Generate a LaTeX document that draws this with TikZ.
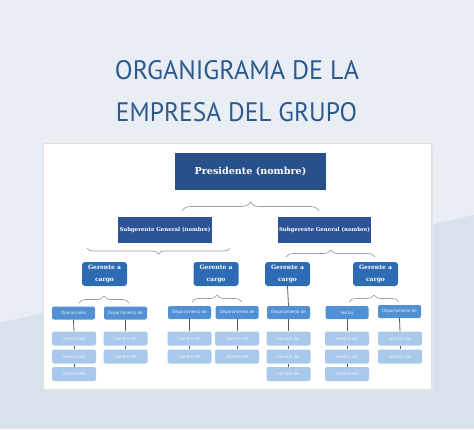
\documentclass[tikz,border=0pt]{standalone}
\usepackage{fontspec}
\setmainfont{PT Sans}
\newfontfamily\slab{DejaVu Serif}
\usetikzlibrary{decorations.pathreplacing,calc}
\definecolor{bgtop}{HTML}{E9EEF5}
\definecolor{bgbot}{HTML}{D8E1EC}
\definecolor{titleblue}{HTML}{2D5A8E}
\definecolor{presblue}{HTML}{28508A}
\definecolor{subblue}{HTML}{2C5397}
\definecolor{gerblue}{HTML}{2E6BB5}
\definecolor{depblue}{HTML}{5090D3}
\definecolor{nomblue}{HTML}{A8C8EC}
\definecolor{linegray}{HTML}{555B63}
\definecolor{bracegray}{HTML}{9AA0A8}
\tikzset{
  titletext/.style={inner sep=0pt, text=titleblue},
  presbox/.style={fill=presblue, minimum width=151pt, minimum height=37pt, inner sep=0pt,
    text=white, font=\slab\bfseries\fontsize{9.6}{11}\selectfont},
  subbox/.style={fill=subblue, minimum width=94pt, minimum height=26pt, inner sep=0pt,
    text=white, font=\slab\bfseries\fontsize{5.4}{6.5}\selectfont},
  gerbox/.style={fill=gerblue, rounded corners=3pt, minimum width=45pt, minimum height=24pt, inner sep=0pt,
    text=white, align=center, font=\slab\bfseries\fontsize{6}{12}\selectfont},
  depbox/.style={fill=depblue, rounded corners=2pt, minimum width=43pt, minimum height=13pt, inner sep=0pt,
    text=white!92!depblue, font=\fontsize{4.6}{5}\selectfont},
  nombox/.style={fill=nomblue, rounded corners=2pt, minimum width=44pt, minimum height=14pt, inner sep=0pt,
    text=white!85!nomblue, font=\fontsize{4.6}{5}\selectfont},
  conn/.style={draw=linegray, line width=0.8pt},
  bracestyle/.style={draw=bracegray, line width=0.7pt, decorate},
}
\begin{document}
\begin{tikzpicture}[x=1pt,y=-1pt]
\useasboundingbox (0,0) rectangle (474,429);
% background
\fill[bgtop] (0,0) rectangle (474,429);
\fill[bgbot] (0,323) -- (474,215) -- (474,429) -- (0,429) -- cycle;
% panel
\fill[black!10] (44.5,144.5) rectangle (432.5,390.5);
\fill[white] (43,143) rectangle (431,389);
\draw[black!12, line width=0.4pt] (43,143) rectangle (431,389);
% title
\node[titletext] (t1) at (237,70.5) {\resizebox{244pt}{19pt}{ORGANIGRAMA DE LA}};
\node[titletext] (t2) at (236.5,112.5) {\resizebox{241pt}{19pt}{EMPRESA DEL GRUPO}};
% top levels
\node[presbox] (pres) at (250.5,171.5) {Presidente (nombre)};
\node[subbox] (subl) at (165,230) {Subgerente General (nombre)};
\node[subbox, minimum width=93pt] (subr) at (324.5,230) {Subgerente General (nombre)};
\node[gerbox] (g1) at (104.5,274) {Gerente a\\cargo};
\node[gerbox] (g2) at (216,274) {Gerente a\\cargo};
\node[gerbox] (g3) at (287.5,274) {Gerente a\\cargo};
\node[gerbox] (g4) at (375.5,274) {Gerente a\\cargo};
% departments
\node[depbox] (d1) at (73.5,313) {Operaciones};
\node[depbox] (d2) at (125.5,313) {Departamento de};
\node[depbox] (d3) at (189.5,312.5) {Departamento de};
\node[depbox] (d4) at (237,312.5) {Departamento de};
\node[depbox] (d5) at (288.5,312.5) {Departamento de};
\node[depbox] (d6) at (347,312.5) {Ventas};
\node[depbox] (d7) at (399.5,311.5) {Departamento de};
% nombre boxes
\foreach \n/\x/\k in {1/74/3, 2/125.5/2, 3/189.5/2, 4/237/2, 5/288.5/3, 6/347/3, 7/400/2}{
  \foreach \r/\y in {1/338.5, 2/356.5, 3/374}{
    \ifnum\r>\k\relax\else
      \node[nombox] (n\n\r) at (\x,\y) {nombre del};
    \fi
  }
}
% connectors
\draw[conn] (g3.south) -- (d5.north);
\foreach \n/\k in {1/3, 2/2, 3/2, 4/2, 5/3, 6/3, 7/2}{
  \draw[conn] (d\n.south) -- (n\n1.north);
  \draw[conn] (n\n1.south) -- (n\n2.north);
  \ifnum\k=3\relax \draw[conn] (n\n2.south) -- (n\n3.north); \fi
}
% braces
\draw[bracestyle, decoration={brace, amplitude=9pt}] (182,211) -- (319,211);
\draw[bracestyle, decoration={brace, amplitude=6pt, mirror, aspect=0.5}] (87,248) -- (230,248);
\draw[bracestyle, decoration={brace, amplitude=7pt}] (286,257) -- (375,257);
\draw[bracestyle, decoration={brace, amplitude=7pt}] (79,303) -- (129,303);
\draw[bracestyle, decoration={brace, amplitude=7pt}] (192,302) -- (242,302);
\draw[bracestyle, decoration={brace, amplitude=7pt}] (349,302) -- (399,302);
\end{tikzpicture}
\end{document}
